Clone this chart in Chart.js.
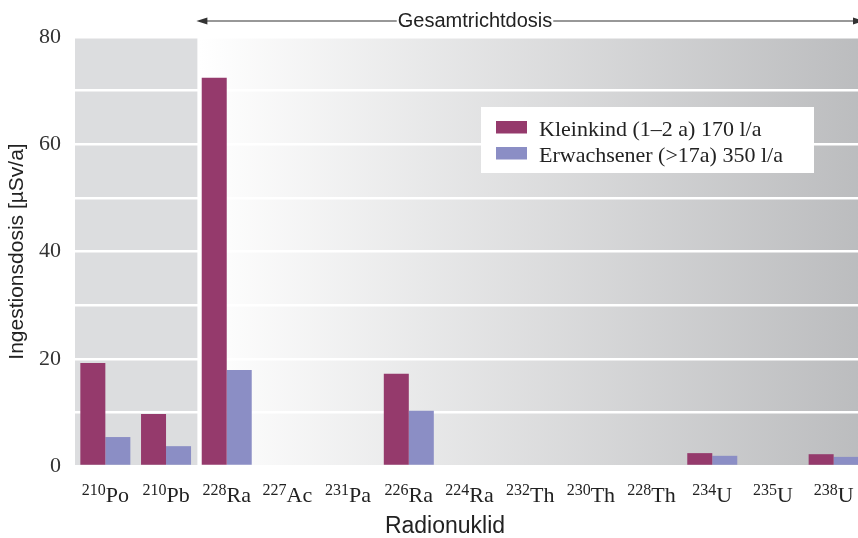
<!DOCTYPE html>
<html>
<head>
<meta charset="utf-8">
<script src="https://cdn.jsdelivr.net/npm/chart.js@4"></script>
<style>
html, body { margin: 0; padding: 0; overflow: hidden; background: #fff; }
</style>
</head>
<body>
<canvas id="doseChart" width="866" height="538"></canvas>
<script>
// --- Daten ---
const massNumbers = ['210', '210', '228', '227', '231', '226', '224', '232', '230', '228', '234', '235', '238'];
const elements = ['Po', 'Pb', 'Ra', 'Ac', 'Pa', 'Ra', 'Ra', 'Th', 'Th', 'Th', 'U', 'U', 'U'];
const kleinkind = [19.2, 9.7, 72.4, 0, 0, 17.2, 0, 0, 0, 0, 2.4, 0, 2.2];
const erwachsener = [5.4, 3.7, 17.9, 0, 0, 10.3, 0, 0, 0, 0, 1.9, 0, 1.7];
const yTicks = [0, 20, 40, 60, 80];
const seriesNames = ['Kleinkind (1–2 a) 170 l/a', 'Erwachsener (>17a) 350 l/a'];
const seriesColors = ['#953a6c', '#8b8ec5'];

const serif = "'Liberation Serif', 'DejaVu Serif', serif";
const sans = "'Liberation Sans', Arial, sans-serif";

function splitX(chart) {
  const x = chart.scales.x;
  return (x.getPixelForValue(1) + x.getPixelForValue(2)) / 2;
}

// grauer Block + Verlauf hinter dem Diagramm
const hintergrund = {
  id: 'hintergrund',
  beforeDraw(chart) {
    const { ctx, chartArea: a } = chart;
    const s = splitX(chart);
    ctx.save();
    ctx.fillStyle = '#dcdddf';
    ctx.fillRect(a.left, a.top, s + 1 - a.left, a.bottom - a.top);
    const g = ctx.createLinearGradient(s + 3, 0, a.right, 0);
    g.addColorStop(0, '#ffffff');
    g.addColorStop(1, '#bbbcbe');
    ctx.fillStyle = g;
    ctx.fillRect(s + 3, a.top, a.right - s - 3, a.bottom - a.top);
    ctx.restore();
  }
};

// Legende, Pfeil, Achsenbeschriftung
const beschriftung = {
  id: 'beschriftung',
  afterDraw(chart) {
    const { ctx, chartArea: a, scales: { x } } = chart;
    const s = splitX(chart);
    ctx.save();

    // Legende
    ctx.fillStyle = '#fff';
    ctx.fillRect(481, 107, 333, 66);
    ctx.font = '22px ' + serif;
    ctx.textBaseline = 'alphabetic';
    chart.data.datasets.forEach((ds, i) => {
      ctx.fillStyle = ds.backgroundColor;
      ctx.fillRect(496, 121 + i * 26, 31, 12.5);
      ctx.fillStyle = '#222';
      ctx.fillText(ds.label, 539, 136 + i * 26);
    });

    // Gesamtrichtdosis-Pfeil
    const y0 = 21;
    ctx.font = '20px ' + sans;
    const txt = 'Gesamtrichtdosis';
    const tw = ctx.measureText(txt).width;
    const tx = 475 - tw / 2;
    ctx.fillStyle = '#222';
    ctx.fillText(txt, tx, 27);
    ctx.strokeStyle = '#333';
    ctx.lineWidth = 1.2;
    ctx.beginPath();
    ctx.moveTo(s + 8, y0); ctx.lineTo(tx - 1, y0);
    ctx.moveTo(tx + tw + 1, y0); ctx.lineTo(a.right - 8, y0);
    ctx.stroke();
    ctx.fillStyle = '#333';
    ctx.beginPath();
    ctx.moveTo(s, y0); ctx.lineTo(s + 11, y0 - 3.5); ctx.lineTo(s + 11, y0 + 3.5); ctx.closePath();
    ctx.moveTo(a.right, y0); ctx.lineTo(a.right - 11, y0 - 3.5); ctx.lineTo(a.right - 11, y0 + 3.5); ctx.closePath();
    ctx.fill();

    // x-Beschriftung mit hochgestellter Massenzahl
    ctx.fillStyle = '#222';
    massNumbers.forEach((m, i) => {
      ctx.font = '16px ' + serif;
      const w1 = ctx.measureText(m).width;
      ctx.font = '22px ' + serif;
      const w2 = ctx.measureText(elements[i]).width;
      const left = x.getPixelForValue(i) - (w1 + w2) / 2;
      ctx.font = '16px ' + serif;
      ctx.fillText(m, left, 495);
      ctx.font = '22px ' + serif;
      ctx.fillText(elements[i], left + w1, 502);
    });

    // x-Titel
    ctx.font = '23px ' + sans;
    ctx.textAlign = 'center';
    ctx.fillStyle = '#222';
    ctx.fillText('Radionuklid', 445, 533);
    ctx.restore();
  }
};

const ctx = document.getElementById('doseChart').getContext('2d');
new Chart(ctx, {
  type: 'bar',
  data: {
    labels: elements.map((e, i) => massNumbers[i] + e),
    datasets: [
      { label: seriesNames[0], data: kleinkind, backgroundColor: seriesColors[0] },
      { label: seriesNames[1], data: erwachsener, backgroundColor: seriesColors[1] }
    ]
  },
  options: {
    responsive: false,
    animation: false,
    layout: { padding: { top: 37, right: 2, left: 0, bottom: 0 } },
    datasets: { bar: { barPercentage: 1, categoryPercentage: 0.824, borderWidth: 0 } },
    plugins: {
      legend: { display: false },
      tooltip: { enabled: false }
    },
    scales: {
      x: {
        ticks: { display: false },
        grid: { display: false },
        border: { display: false },
        afterFit: s => { s.height = 72; }
      },
      y: {
        min: 0,
        max: 80,
        ticks: {
          stepSize: 10,
          padding: 14,
          color: '#333',
          font: { family: serif, size: 22 },
          callback: v => yTicks.includes(v) ? v : ''
        },
        grid: { color: '#ffffff', lineWidth: 2.5, drawTicks: false },
        border: { display: false },
        title: {
          display: true,
          text: 'Ingestionsdosis [µSv/a]',
          color: '#222',
          font: { family: sans, size: 21 },
          padding: { top: 5 }
        },
        afterFit: s => { s.width = 75; }
      }
    }
  },
  plugins: [hintergrund, beschriftung]
});
</script>
</body>
</html>
